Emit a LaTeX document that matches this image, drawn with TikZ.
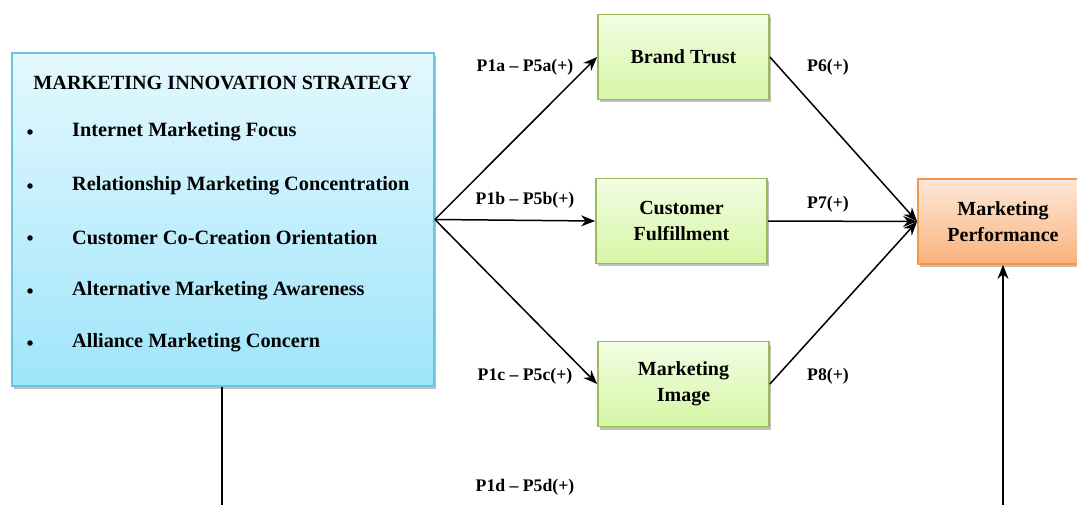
\documentclass[tikz,border=0pt]{standalone}
\usepackage{fontspec}
\setmainfont{Liberation Serif}
\usepackage{xcolor}
\usetikzlibrary{arrows.meta, positioning, shadows}
\definecolor{misedge}{HTML}{6CC3DE}
\definecolor{mistop}{HTML}{E4F8FE}
\definecolor{misbot}{HTML}{9FE5FB}
\definecolor{mededge}{HTML}{9BBB59}
\definecolor{medtop}{HTML}{F2FDE4}
\definecolor{medbot}{HTML}{D6F6A4}
\definecolor{outedge}{HTML}{F79646}
\definecolor{outtop}{HTML}{FDE8DA}
\definecolor{outbot}{HTML}{FAB27C}
\tikzset{
  box/.style={rectangle, draw, line width=1.8pt, align=center, inner sep=0pt,
    font=\bfseries\fontsize{20}{26}\selectfont,
    drop shadow={shadow xshift=2pt, shadow yshift=-3pt, fill=black!50, opacity=.5}},
  misbox/.style={box, draw=misedge, top color=mistop, bottom color=misbot, minimum width=422pt, minimum height=333pt},
  medbox/.style={box, draw=mededge, top color=medtop, bottom color=medbot, minimum width=171pt, minimum height=85pt},
  outbox/.style={box, draw=outedge, top color=outtop, bottom color=outbot, minimum width=170pt, minimum height=85pt},
  item/.style={anchor=west, inner sep=0pt, font=\bfseries\fontsize{20.3}{22}\selectfont},
  dot/.style={circle, fill=black, inner sep=0pt, minimum size=5.5pt},
  plabel/.style={inner sep=0pt, font=\bfseries\fontsize{17.7}{20}\selectfont},
  arrow/.style={-{Stealth[length=14pt, width=11pt]}, line width=1.5pt},
}

\begin{document}
\begin{tikzpicture}[x=1pt, y=-1pt]
    \useasboundingbox (0,0) rectangle (1077,505);
    % boxes
    \node[misbox] (mis) at (223,219.5) {};
    \node[medbox] (trust) at (683.5,57) {Brand Trust};
    \node[medbox] (fulfil) at (681.5,221) {Customer\\Fulfillment};
    \node[medbox] (image) at (683.5,384) {Marketing\\Image};
    \node[outbox] (perf) at (1003,221.5) {Marketing\\Performance};
    % strategy contents
    \node[inner sep=0pt, font=\bfseries\fontsize{20.2}{22}\selectfont] (title) at (222.5,83) {MARKETING INNOVATION STRATEGY};
    \foreach \y/\txt [count=\i] in {132/Internet Marketing Focus, 186/Relationship Marketing Concentration,
        238/Customer Co-Creation Orientation, 291/Alternative Marketing Awareness, 343/Alliance Marketing Concern} {
      \node[dot] (dot\i) at (30,\y) {};
      \node[item] (item\i) at (72,\y) {\txt};
    }
    % bottom ends
    \coordinate (misdown) at (222,505);
    \coordinate (perfup) at (1003,505);
    % arrows
    \draw[arrow] (mis.east) -- (trust.west);
    \draw[arrow] (mis.east) -- (fulfil.west);
    \draw[arrow] (mis.east) -- (image.west);
    \draw[arrow] (trust.east) -- (perf.west);
    \draw[arrow] (fulfil.east) -- (perf.west);
    \draw[arrow] (image.east) -- (perf.west);
    \draw[line width=1.5pt] (mis.south -| misdown) -- (misdown);
    \draw[arrow] (perfup) -- (perf.south);
    % labels
    \node[plabel] (pa) at (525,67) {P1a -- P5a(+)};
    \node[plabel] (pb) at (525,200) {P1b -- P5b(+)};
    \node[plabel] (pc) at (525,376) {P1c -- P5c(+)};
    \node[plabel] (pd) at (525,487) {P1d -- P5d(+)};
    \node[plabel] (p6) at (828,67) {P6(+)};
    \node[plabel] (p7) at (828,204) {P7(+)};
    \node[plabel] (p8) at (828,376) {P8(+)};
\end{tikzpicture}
\end{document}
